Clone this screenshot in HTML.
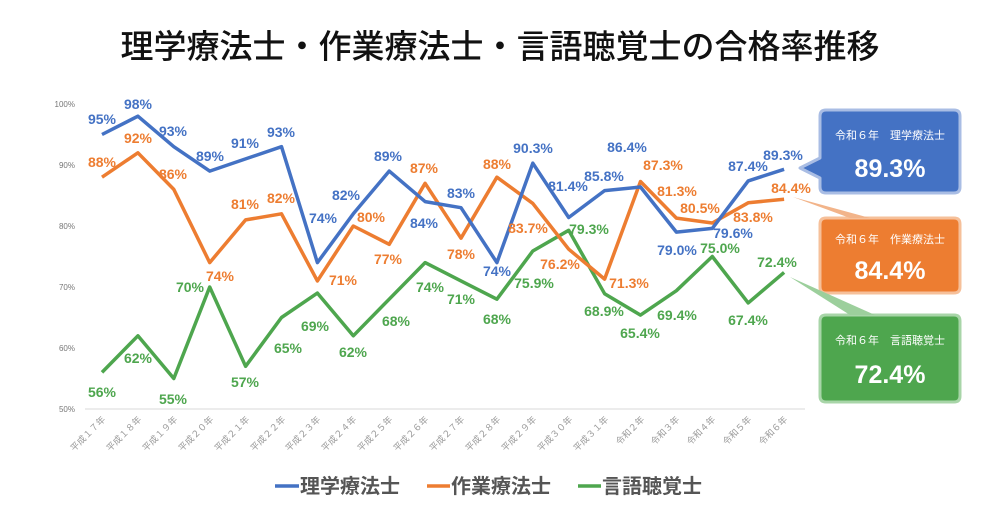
<!DOCTYPE html>
<html><head><meta charset="utf-8"><style>
html,body{margin:0;padding:0;background:#fff;}
svg{display:block;font-family:"Liberation Sans","Noto Sans CJK JP",sans-serif;}
.lb{font-size:14px;font-weight:bold;text-anchor:middle;}
.b{fill:#4472C4}.o{fill:#ED7D31}.g{fill:#4EA64E}
.ax{font-size:8px;fill:#777;}
.xl{font-size:9px;fill:#999;text-anchor:end;}
</style></head><body>
<svg width="1000" height="524" viewBox="0 0 1000 524">
<text x="500" y="58" text-anchor="middle" font-size="33" font-weight="500" fill="#111" font-family="'Noto Sans CJK JP',sans-serif">理学療法士・作業療法士・言語聴覚士の合格率推移</text>
<g class="ax" text-anchor="end">
<text x="75" y="107">100%</text><text x="75" y="168">90%</text><text x="75" y="229">80%</text>
<text x="75" y="290">70%</text><text x="75" y="351">60%</text><text x="75" y="412">50%</text>
</g>
<line x1="85" y1="409" x2="805" y2="409" stroke="#d9d9d9" stroke-width="1"/>
<g class="xl" font-family="'Noto Sans CJK JP',sans-serif">
<text transform="translate(106,420) rotate(-45)">平成１７年</text>
<text transform="translate(142,420) rotate(-45)">平成１８年</text>
<text transform="translate(178,420) rotate(-45)">平成１９年</text>
<text transform="translate(214,420) rotate(-45)">平成２０年</text>
<text transform="translate(250,420) rotate(-45)">平成２１年</text>
<text transform="translate(286,420) rotate(-45)">平成２２年</text>
<text transform="translate(321,420) rotate(-45)">平成２３年</text>
<text transform="translate(357,420) rotate(-45)">平成２４年</text>
<text transform="translate(393,420) rotate(-45)">平成２５年</text>
<text transform="translate(429,420) rotate(-45)">平成２６年</text>
<text transform="translate(465,420) rotate(-45)">平成２７年</text>
<text transform="translate(501,420) rotate(-45)">平成２８年</text>
<text transform="translate(537,420) rotate(-45)">平成２９年</text>
<text transform="translate(573,420) rotate(-45)">平成３０年</text>
<text transform="translate(609,420) rotate(-45)">平成３１年</text>
<text transform="translate(645,420) rotate(-45)">令和２年</text>
<text transform="translate(680,420) rotate(-45)">令和３年</text>
<text transform="translate(716,420) rotate(-45)">令和４年</text>
<text transform="translate(752,420) rotate(-45)">令和５年</text>
<text transform="translate(788,420) rotate(-45)">令和６年</text>
</g>
<g fill="none" stroke-width="3.5" stroke-linejoin="round">
<polyline stroke="#4EA64E" points="102,372.4 137.9,335.8 173.8,378.5 209.7,287 245.6,366.3 281.5,317.5 317.4,293.1 353.3,335.8 389.2,299.2 425.1,262.6 461,280.9 496.9,299.2 532.8,251 568.7,230.3 604.6,293.7 640.5,315.1 676.4,290.7 712.3,256.5 748.2,302.9 784.1,272.4"/>
<polyline stroke="#ED7D31" points="102,177.2 137.9,152.8 173.8,189.4 209.7,262.6 245.6,219.9 281.5,213.8 317.4,280.9 353.3,226 389.2,244.3 425.1,183.3 461,238.2 496.9,177.2 532.8,203.4 568.7,249.2 604.6,279.1 640.5,181.5 676.4,218.1 712.3,223 748.2,202.8 784.1,199.2"/>
<polyline stroke="#4472C4" points="102,134.5 137.9,116.2 173.8,146.7 209.7,171.1 245.6,158.9 281.5,146.7 317.4,262.6 353.3,213.8 389.2,171.1 425.1,201.6 461,207.7 496.9,262.6 532.8,163.2 568.7,217.5 604.6,190.6 640.5,187 676.4,232.1 712.3,228.4 748.2,180.9 784.1,169.3"/>
</g>
<g class="lb b">
<text x="102" y="124">95%</text><text x="138" y="109">98%</text><text x="173" y="136">93%</text><text x="210" y="161">89%</text><text x="245" y="148">91%</text><text x="281" y="137">93%</text><text x="323" y="223">74%</text><text x="346" y="200">82%</text><text x="388" y="161">89%</text><text x="424" y="228">84%</text>
<text x="461" y="198">83%</text><text x="497" y="276">74%</text><text x="533" y="153">90.3%</text><text x="568" y="191">81.4%</text><text x="604" y="181">85.8%</text><text x="627" y="152">86.4%</text><text x="677" y="255">79.0%</text><text x="733" y="238">79.6%</text><text x="748" y="171">87.4%</text><text x="783" y="160">89.3%</text>
</g>
<g class="lb o">
<text x="102" y="167">88%</text><text x="138" y="143">92%</text><text x="173" y="179">86%</text><text x="220" y="281">74%</text><text x="245" y="209">81%</text><text x="281" y="203">82%</text><text x="343" y="285">71%</text><text x="371" y="222">80%</text><text x="388" y="264">77%</text><text x="424" y="173">87%</text>
<text x="461" y="259">78%</text><text x="497" y="169">88%</text><text x="528" y="233">83.7%</text><text x="560" y="269">76.2%</text><text x="629" y="288">71.3%</text><text x="663" y="170">87.3%</text><text x="677" y="196">81.3%</text><text x="700" y="213">80.5%</text><text x="753" y="222">83.8%</text><text x="791" y="193">84.4%</text>
</g>
<g class="lb g">
<text x="102" y="397">56%</text><text x="138" y="363">62%</text><text x="173" y="404">55%</text><text x="190" y="292">70%</text><text x="245" y="387">57%</text><text x="288" y="353">65%</text><text x="315" y="331">69%</text><text x="353" y="357">62%</text><text x="396" y="326">68%</text><text x="430" y="292">74%</text>
<text x="461" y="304">71%</text><text x="497" y="324">68%</text><text x="534" y="288">75.9%</text><text x="589" y="234">79.3%</text><text x="604" y="316">68.9%</text><text x="640" y="338">65.4%</text><text x="677" y="320">69.4%</text><text x="720" y="253">75.0%</text><text x="748" y="325">67.4%</text><text x="777" y="267">72.4%</text>
</g>
<g stroke-width="3" stroke-linejoin="round">
<path d="M826,110 H954 Q960,110 960,116 V187 Q960,193 954,193 H826 Q820,193 820,187 V178 L800,168 L820,158 V116 Q820,110 826,110 Z" fill="#4472C4" stroke="#a9bde4"/>
<path d="M826,218 H954 Q960,218 960,224 V287 Q960,293 954,293 H826 Q820,293 820,287 V224 Q820,218 826,218 H870 Z" fill="#ED7D31" stroke="#f6c09a"/>
<path d="M793,197 L870,218 L850,218 Z" fill="#f2b48a"/>
<path d="M826,315 H954 Q960,315 960,321 V396 Q960,402 954,402 H826 Q820,402 820,396 V321 Q820,315 826,315 Z" fill="#4EA64E" stroke="#a8d5a8"/>
<path d="M790,277 L875,315 L850,315 Z" fill="#9ccf9c"/>
</g>
<g fill="#fff" text-anchor="middle" font-family="'Noto Sans CJK JP',sans-serif">
<text x="890" y="139" font-size="11">令和６年　理学療法士</text>
<text x="890" y="177" font-size="25" font-weight="bold" font-family="'Liberation Sans',sans-serif">89.3%</text>
<text x="890" y="243" font-size="11">令和６年　作業療法士</text>
<text x="890" y="279" font-size="25" font-weight="bold" font-family="'Liberation Sans',sans-serif">84.4%</text>
<text x="890" y="344" font-size="11">令和６年　言語聴覚士</text>
<text x="890" y="383" font-size="25" font-weight="bold" font-family="'Liberation Sans',sans-serif">72.4%</text>
</g>
<g font-size="20" font-weight="bold" fill="#555" font-family="'Noto Sans CJK JP',sans-serif">
<line x1="275" y1="486" x2="299" y2="486" stroke="#4472C4" stroke-width="3.5"/>
<text x="300" y="493">理学療法士</text>
<line x1="427" y1="486" x2="450" y2="486" stroke="#ED7D31" stroke-width="3.5"/>
<text x="451" y="493">作業療法士</text>
<line x1="578" y1="486" x2="601" y2="486" stroke="#4EA64E" stroke-width="3.5"/>
<text x="602" y="493">言語聴覚士</text>
</g>
</svg>
</body></html>
